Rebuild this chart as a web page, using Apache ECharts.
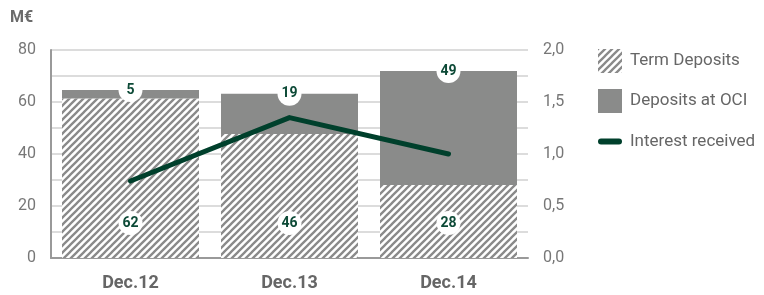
<!DOCTYPE html>
<html><head><meta charset="utf-8">
<script src="https://cdn.jsdelivr.net/npm/echarts@6/dist/echarts.min.js"></script>
<style>html,body{margin:0;padding:0;background:#fff}#c{width:764px;height:295px}</style>
</head><body><div id="c"></div>
<script>
// Data
var categories = ['Dec.12', 'Dec.13', 'Dec.14'];
var termDeposits = [61.3, 47.7, 28.1];        // drawn bar heights (M€)
var termLabels = [62, 46, 28];                // printed labels
var depositsOCI = [3.3, 15.5, 43.8];          // drawn bar heights (M€)
var ociLabels = [5, 19, 49];                  // printed labels
var interest = [0.74, 1.35, 1.0];             // right axis
var leftTicks = [0, 20, 40, 60, 80];
var rightTicks = ['0,0', '0,5', '1,0', '1,5', '2,0'];
var legendNames = ['Term Deposits', 'Deposits at OCI', 'Interest received'];

// hatch pattern
var tile = document.createElement('canvas');
var T = 7; tile.width = T; tile.height = T;
var g = tile.getContext('2d');
g.fillStyle = '#fff'; g.fillRect(0, 0, T, T);
g.strokeStyle = '#8a8a8a'; g.lineWidth = 2.3;
g.beginPath();
g.moveTo(-1, T + 1); g.lineTo(T + 1, -1);
g.moveTo(-1, 1); g.lineTo(1, -1);
g.moveTo(T - 1, T + 1); g.lineTo(T + 1, T - 1);
g.stroke();

var font = 'Roboto, "DejaVu Sans", sans-serif';
var labelGreen = '#0d4a37';
var lineGreen = '#00402c';
var icons = ['rect', 'rect', 'path://M3,0 L21,0 A3,3 0 0 1 21,6 L3,6 A3,3 0 0 1 3,0 Z'];
var legendTops = [49, 89, 133];
var legends = legendNames.map(function (n, i) {
  return {
    orient: 'vertical', left: 598, top: legendTops[i], padding: 0, itemWidth: 24, itemHeight: 24,
    symbolKeepAspect: true, selectedMode: false,
    textStyle: { fontSize: 17, color: '#666', fontFamily: font, padding: [0, 0, 0, 3] },
    data: [{ name: n, icon: icons[i] }]
  };
});
var chart = echarts.init(document.getElementById('c'));
chart.setOption({
  animation: false,
  textStyle: { fontFamily: font },
  title: { text: 'M€', left: 10, top: 10, padding: 0, textStyle: { fontSize: 16, fontWeight: 'bold', color: '#6b6b6b', fontFamily: font } },
  legend: legends,
  grid: { left: 51, right: 236, top: 50, bottom: 37 },
  xAxis: {
    type: 'category', data: categories,
    axisLine: { lineStyle: { color: '#999', width: 2 } },
    axisTick: { show: false },
    axisLabel: { fontSize: 18, fontWeight: 'bold', color: '#666', margin: 16, fontFamily: font }
  },
  yAxis: [{
    type: 'value', min: 0, max: 80, interval: 10,
    axisLine: { show: true, lineStyle: { color: '#999', width: 2 } },
    axisTick: { show: false },
    splitLine: { lineStyle: { color: '#dcdcdc', width: 2 } },
    axisLabel: { fontSize: 16, color: '#777', margin: 15, fontFamily: font,
      formatter: function (v) { return leftTicks.indexOf(v) >= 0 ? String(v) : ''; } }
  }, {
    type: 'value', min: 0, max: 2, interval: 0.25,
    axisLine: { show: false }, axisTick: { show: false }, splitLine: { show: false },
    axisLabel: { fontSize: 16, color: '#777', margin: 15, fontFamily: font,
      formatter: function (v) { var i = Math.round(v / 0.5); return Math.abs(v - i * 0.5) < 1e-6 ? rightTicks[i] : ''; } }
  }],
  series: [{
    name: legendNames[0], type: 'bar', stack: 's', barWidth: 137,
    data: termDeposits,
    itemStyle: { color: { image: tile, repeat: 'repeat' } },
    label: { show: true, position: 'insideBottom', distance: 23,
      formatter: function (p) { return termLabels[p.dataIndex]; },
      backgroundColor: '#fff', borderRadius: 12, width: 24, height: 24, lineHeight: 24, align: 'center',
      color: labelGreen, fontWeight: 'bold', fontSize: 14, fontFamily: font }
  }, {
    name: legendNames[1], type: 'bar', stack: 's', barWidth: 137,
    data: depositsOCI,
    itemStyle: { color: '#8a8b8a' },
    label: { show: true, position: 'top', distance: -12,
      formatter: function (p) { return ociLabels[p.dataIndex]; },
      backgroundColor: '#fff', borderRadius: 12, width: 24, height: 24, lineHeight: 24, align: 'center',
      color: labelGreen, fontWeight: 'bold', fontSize: 14, fontFamily: font }
  }, {
    name: legendNames[2], type: 'line', yAxisIndex: 1, data: interest,
    symbol: 'none', z: 5,
    lineStyle: { color: lineGreen, width: 5, cap: 'round', join: 'round' },
    itemStyle: { color: lineGreen }
  }]
});
</script></body></html>
